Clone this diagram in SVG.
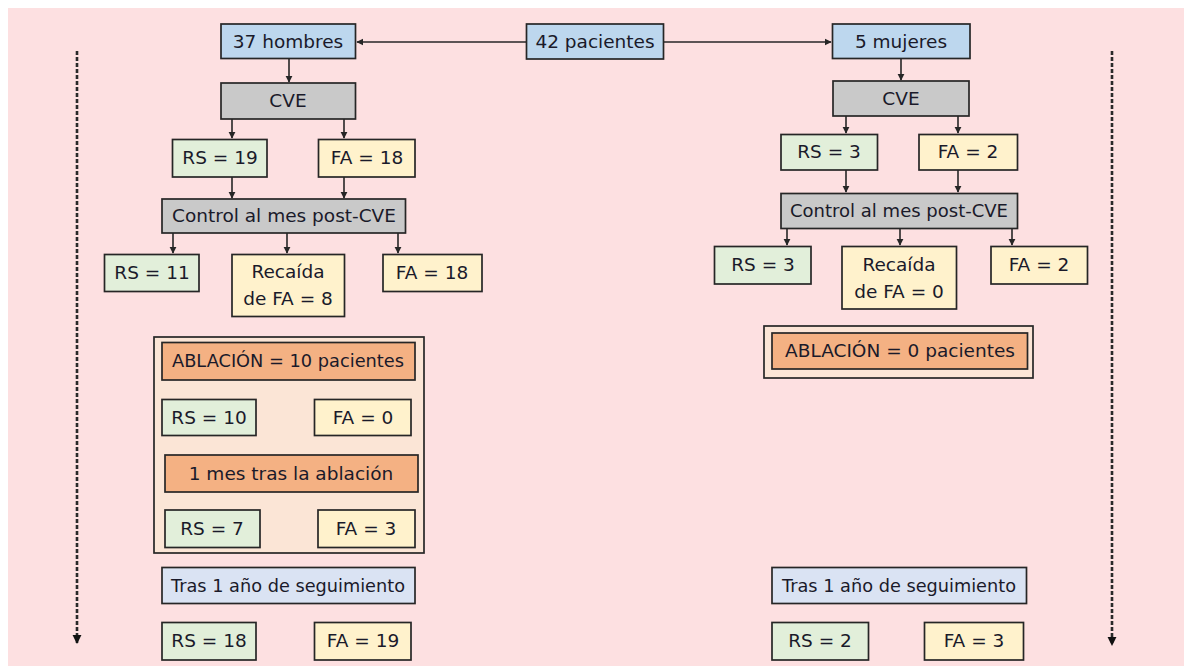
<svg xmlns="http://www.w3.org/2000/svg" width="1184" height="666" viewBox="0 0 1184 666">
<style>
.b{stroke:#262626;stroke-width:1.7}
.blue{fill:#bdd7ee}.gray{fill:#c9c9c9}.green{fill:#e2efda}.yellow{fill:#fff2cc}.orange{fill:#f4b183}.peach{fill:#fbe5d6}.lblue{fill:#dae3f3}
text{font-family:"DejaVu Sans","Liberation Sans",sans-serif;font-size:18.5px;fill:#1a1a2a;text-anchor:middle}
.c{stroke:#262626;stroke-width:1.6;fill:none}
.d{stroke:#2a2a2a;stroke-width:2.6;fill:none;stroke-dasharray:4 2}
</style>
<defs>
<marker id="a" viewBox="0 0 10 10" refX="9" refY="5" markerWidth="4.5" markerHeight="4.5" orient="auto" markerUnits="strokeWidth"><path d="M0,0 L10,5 L0,10 z" fill="#262626"/></marker>
<marker id="ad" viewBox="0 0 10 10" refX="9" refY="5" markerWidth="3.5" markerHeight="3.5" orient="auto" markerUnits="strokeWidth"><path d="M0,0 L10,5 L0,10 z" fill="#111"/></marker>
</defs>
<rect x="0" y="0" width="1184" height="666" fill="#ffffff"/>
<rect x="8" y="8" width="1176" height="658" fill="#fde0e1"/>

<g id="connectors">
<line class="c" x1="526" y1="42" x2="357" y2="42" marker-end="url(#a)"/>
<line class="c" x1="664" y1="42" x2="831" y2="42" marker-end="url(#a)"/>
<line class="c" x1="289" y1="58" x2="289" y2="82" marker-end="url(#a)"/>
<line class="c" x1="232" y1="119" x2="232" y2="138" marker-end="url(#a)"/>
<line class="c" x1="344" y1="119" x2="344" y2="138" marker-end="url(#a)"/>
<line class="c" x1="232" y1="177" x2="232" y2="198" marker-end="url(#a)"/>
<line class="c" x1="344" y1="177" x2="344" y2="198" marker-end="url(#a)"/>
<line class="c" x1="173" y1="233" x2="173" y2="253" marker-end="url(#a)"/>
<line class="c" x1="287" y1="233" x2="287" y2="253" marker-end="url(#a)"/>
<line class="c" x1="398" y1="233" x2="398" y2="253" marker-end="url(#a)"/>
<line class="c" x1="901" y1="58" x2="901" y2="80" marker-end="url(#a)"/>
<line class="c" x1="846" y1="116" x2="846" y2="133" marker-end="url(#a)"/>
<line class="c" x1="958" y1="116" x2="958" y2="133" marker-end="url(#a)"/>
<line class="c" x1="846" y1="170" x2="846" y2="192" marker-end="url(#a)"/>
<line class="c" x1="958" y1="170" x2="958" y2="192" marker-end="url(#a)"/>
<line class="c" x1="787" y1="229" x2="787" y2="245" marker-end="url(#a)"/>
<line class="c" x1="900" y1="229" x2="900" y2="245" marker-end="url(#a)"/>
<line class="c" x1="1012" y1="229" x2="1012" y2="245" marker-end="url(#a)"/>
<line class="d" x1="77" y1="51" x2="77" y2="643" marker-end="url(#ad)"/>
<line class="d" x1="1112" y1="51" x2="1112" y2="645" marker-end="url(#ad)"/>
</g>

<g id="n42"><rect class="b blue" x="526.5" y="24" width="137" height="35"/><text x="595" y="48">42 pacientes</text></g>
<g id="hombres"><rect class="b blue" x="221" y="24" width="134.5" height="34.5"/><text x="288" y="48">37 hombres</text></g>
<g id="mujeres"><rect class="b blue" x="832.5" y="24" width="137.5" height="34.5"/><text x="901" y="48">5 mujeres</text></g>

<g id="cveL"><rect class="b gray" x="221" y="83" width="134.5" height="36"/><text x="288" y="107">CVE</text></g>
<g id="rs19"><rect class="b green" x="172.5" y="139.5" width="94.5" height="37.5"/><text x="220" y="164">RS = 19</text></g>
<g id="fa18a"><rect class="b yellow" x="318.5" y="139.5" width="96.5" height="37.5"/><text x="367" y="164">FA = 18</text></g>
<g id="ctrlL"><rect class="b gray" x="162" y="199" width="243.5" height="34"/><text x="284" y="222">Control al mes post-CVE</text></g>
<g id="rs11"><rect class="b green" x="104.5" y="254.5" width="94.5" height="37"/><text x="152" y="279">RS = 11</text></g>
<g id="recL"><rect class="b yellow" x="232" y="254.5" width="112.5" height="62"/><text x="288" y="278">Recaída</text><text x="288" y="305">de FA = 8</text></g>
<g id="fa18b"><rect class="b yellow" x="383" y="254.5" width="99" height="37"/><text x="432" y="279">FA = 18</text></g>

<g id="ablL"><rect class="b peach" x="154" y="337" width="270" height="216"/></g>
<g id="abl10"><rect class="b orange" x="162" y="342.5" width="253" height="37.5"/><text x="288" y="367" textLength="232" lengthAdjust="spacingAndGlyphs">ABLACIÓN = 10 pacientes</text></g>
<g id="rs10"><rect class="b green" x="162" y="399.5" width="94" height="36"/><text x="209" y="424">RS = 10</text></g>
<g id="fa0"><rect class="b yellow" x="314.5" y="399.5" width="96.5" height="36"/><text x="363" y="424">FA = 0</text></g>
<g id="mes1"><rect class="b orange" x="165" y="455" width="253" height="37"/><text x="291" y="480">1 mes tras la ablación</text></g>
<g id="rs7"><rect class="b green" x="165" y="510" width="95" height="37.5"/><text x="212" y="535">RS = 7</text></g>
<g id="fa3a"><rect class="b yellow" x="318" y="510" width="97" height="37.5"/><text x="366" y="535">FA = 3</text></g>
<g id="trasL"><rect class="b lblue" x="162" y="567.5" width="253" height="36"/><text x="288" y="592" textLength="234" lengthAdjust="spacingAndGlyphs">Tras 1 año de seguimiento</text></g>
<g id="rs18"><rect class="b green" x="162" y="622.5" width="94" height="37.5"/><text x="209" y="647">RS = 18</text></g>
<g id="fa19"><rect class="b yellow" x="314.5" y="622.5" width="96.5" height="37.5"/><text x="363" y="647">FA = 19</text></g>

<g id="cveR"><rect class="b gray" x="833" y="81" width="136" height="35"/><text x="901" y="105">CVE</text></g>
<g id="rs3a"><rect class="b green" x="781" y="134.5" width="96.5" height="35.5"/><text x="829" y="158">RS = 3</text></g>
<g id="fa2a"><rect class="b yellow" x="919" y="134.5" width="98.5" height="35.5"/><text x="968" y="158">FA = 2</text></g>
<g id="ctrlR"><rect class="b gray" x="781" y="193.5" width="236.5" height="35"/><text x="899" y="217" textLength="218" lengthAdjust="spacingAndGlyphs">Control al mes post-CVE</text></g>
<g id="rs3b"><rect class="b green" x="714.5" y="246.5" width="96.5" height="37.5"/><text x="763" y="271">RS = 3</text></g>
<g id="recR"><rect class="b yellow" x="842" y="246.5" width="114.5" height="62.5"/><text x="899" y="271">Recaída</text><text x="899" y="298">de FA = 0</text></g>
<g id="fa2b"><rect class="b yellow" x="991" y="246.5" width="96.5" height="37.5"/><text x="1039" y="271">FA = 2</text></g>
<g id="ablR"><rect class="b peach" x="764" y="326" width="269" height="52"/></g>
<g id="abl0"><rect class="b orange" x="772" y="333" width="255.5" height="36"/><text x="900" y="357">ABLACIÓN = 0 pacientes</text></g>
<g id="trasR"><rect class="b lblue" x="772" y="567.5" width="254.5" height="36"/><text x="899" y="592" textLength="234" lengthAdjust="spacingAndGlyphs">Tras 1 año de seguimiento</text></g>
<g id="rs2"><rect class="b green" x="772" y="622.5" width="96.5" height="37.5"/><text x="820" y="647">RS = 2</text></g>
<g id="fa3b"><rect class="b yellow" x="924.5" y="622.5" width="99" height="37.5"/><text x="974" y="647">FA = 3</text></g>
</svg>
